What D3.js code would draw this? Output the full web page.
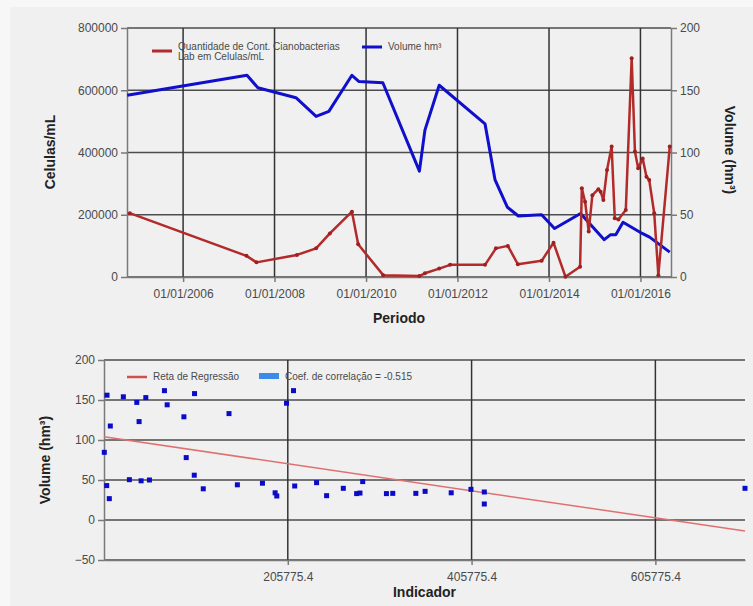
<!DOCTYPE html>
<html>
<head>
<meta charset="utf-8">
<script src="https://cdn.jsdelivr.net/npm/d3@7"></script>
<style>
  body { margin: 0; background: #f7f7f7; }
  text { font-family: "Liberation Sans", Arial, sans-serif; }
</style>
</head>
<body>
<div id="chart"></div>
<script>
// --- top chart data: cianobacterias (cells/mL) ---
var cianoDatas = ["2004-11-01", "2007-05-22", "2007-08-10", "2008-06-28", "2008-11-28", "2009-03-18",
  "2009-09-10", "2009-10-30", "2010-05-18", "2011-03-03", "2011-04-16", "2011-08-08", "2011-11-03",
  "2012-08-08", "2012-11-03", "2013-02-06", "2013-04-27", "2013-11-03", "2014-02-06", "2014-05-12",
  "2014-09-06", "2014-09-20", "2014-10-16", "2014-11-14", "2014-12-13", "2015-01-30", "2015-02-17",
  "2015-03-11", "2015-04-09", "2015-05-16", "2015-06-10", "2015-07-09", "2015-09-06", "2015-10-23",
  "2015-11-18", "2015-12-14", "2016-01-19", "2016-02-18", "2016-03-11", "2016-04-20", "2016-05-23",
  "2016-08-22"];
var cianoValores = [205000, 68000, 47000, 71000, 92000, 140000, 210000, 105000, 6000, 3000, 12000,
  27000, 39000, 39000, 92000, 100000, 41000, 52000, 110000, 1000, 33000, 285000, 242000, 146000,
  263000, 282000, 274000, 247000, 344000, 419000, 189000, 185000, 215000, 703000, 403000, 349000,
  381000, 322000, 312000, 205000, 6000, 419000];

// --- top chart data: volume (hm3) ---
var volumeDatas = ["2004-10-12", "2007-05-26", "2007-08-21", "2008-06-20", "2008-11-28", "2009-03-10",
  "2009-09-10", "2009-11-06", "2010-05-15", "2011-03-03", "2011-04-16", "2011-08-08", "2012-08-08",
  "2012-10-27", "2013-02-03", "2013-05-01", "2013-11-03", "2014-02-14", "2014-09-10", "2015-03-18",
  "2015-05-08", "2015-06-18", "2015-08-15", "2016-01-15", "2016-03-14", "2016-08-22"];
var volumeValores = [146, 162, 152, 144, 129, 133, 162, 157, 156, 85, 118, 154, 123, 78, 56, 49, 50,
  39, 51, 30, 34, 34, 44, 35, 32, 20];

var anosTicks = ["2006-01-01", "2008-01-01", "2010-01-01", "2012-01-01", "2014-01-01", "2016-01-01"];

// --- bottom chart data: scatter indicador x volume ---
var indicador = [6100, 9050, 8720, 11560, 12650, 26830, 33380, 41450, 43960, 46150, 51270, 55200,
  71570, 74520, 92740, 95250, 104000, 104300, 113800, 141800, 150900, 178200, 192000, 193800,
  204400, 212000, 213300, 237100, 248000, 266200, 280700, 284300, 287300, 313100, 320000, 345100,
  355200, 383600, 405100, 419600, 419600, 703300];
var volumeDisp = [84.6, 156, 43, 26.7, 117.5, 154, 50.4, 147, 123, 49, 153, 50, 161.7, 144, 129, 78,
  56, 158, 39, 133, 44, 46, 34, 30, 146, 161.7, 42.5, 46.7, 30.4, 39.6, 33, 33.7, 48, 33, 33.3, 33.3,
  35.8, 34, 38.3, 35, 20, 39.6];
var indicadorTicks = [205775.4, 405775.4, 605775.4];
var retaX = [5775.4, 703300];
var retaY = [104, -13.7];

var width = 753, height = 606;
var gridColor = "#4d4d4d", axisColor = "#7a7a7a", textColor = "#4a4a4a";

var svg = d3.select("#chart").append("svg")
  .attr("width", width).attr("height", height);

svg.append("rect").attr("x", 10).attr("y", 7).attr("width", width - 10).attr("height", height - 7)
  .attr("fill", "#f0f0f0");

var parse = d3.timeParse("%Y-%m-%d");

// ================= top chart =================
var box1 = { left: 127, right: 671, top: 28, bottom: 277 };

var x1 = d3.scaleTime()
  .domain([parse("2004-10-10"), parse("2016-09-01")])
  .range([box1.left, box1.right]);
var yL = d3.scaleLinear().domain([0, 800000]).range([box1.bottom, box1.top]);
var yR = d3.scaleLinear().domain([0, 200]).range([box1.bottom, box1.top]);

var g1 = svg.append("g");

// horizontal grid
g1.selectAll(".hgrid").data(yL.ticks(4)).enter().append("line")
  .attr("x1", box1.left).attr("x2", box1.right)
  .attr("y1", function (d) { return yL(d); }).attr("y2", function (d) { return yL(d); })
  .attr("stroke", gridColor).attr("stroke-width", 1.5);

// vertical grid
g1.selectAll(".vgrid").data(anosTicks.map(parse)).enter().append("line")
  .attr("x1", function (d) { return x1(d); }).attr("x2", function (d) { return x1(d); })
  .attr("y1", box1.top).attr("y2", box1.bottom)
  .attr("stroke", "#333").attr("stroke-width", 1.5);

// left axis
var axL = g1.append("g").attr("transform", "translate(" + box1.left + ",0)")
  .call(d3.axisLeft(yL).ticks(4).tickSize(6).tickSizeOuter(0).tickFormat(d3.format("d")));
// right axis
var axR = g1.append("g").attr("transform", "translate(" + box1.right + ",0)")
  .call(d3.axisRight(yR).ticks(4).tickSize(6).tickSizeOuter(0));
// bottom axis
var axB = g1.append("g").attr("transform", "translate(0," + box1.bottom + ")")
  .call(d3.axisBottom(x1).tickValues(anosTicks.map(parse)).tickSize(5).tickSizeOuter(0)
    .tickFormat(d3.timeFormat("%d/%m/%Y")));

[axL, axR, axB].forEach(function (ax) {
  ax.selectAll("path").attr("stroke", axisColor).attr("stroke-width", 1.5);
  ax.selectAll("line").attr("stroke", axisColor).attr("stroke-width", 1.5);
  ax.selectAll("text").attr("fill", textColor).style("font-size", "12px");
});
axB.selectAll("text").attr("dy", "1.05em");

// series
var ciano = cianoDatas.map(function (d, i) { return { date: parse(d), v: cianoValores[i] }; });
var volume = volumeDatas.map(function (d, i) { return { date: parse(d), v: volumeValores[i] }; });

g1.append("path").datum(volume)
  .attr("fill", "none").attr("stroke", "#1010cc").attr("stroke-width", 3)
  .attr("stroke-linejoin", "round")
  .attr("d", d3.line().x(function (d) { return x1(d.date); }).y(function (d) { return yR(d.v); }));

g1.append("path").datum(ciano)
  .attr("fill", "none").attr("stroke", "#b22a2a").attr("stroke-width", 2.5)
  .attr("stroke-linejoin", "round")
  .attr("d", d3.line().x(function (d) { return x1(d.date); }).y(function (d) { return yL(d.v); }));

g1.selectAll(".cpt").data(ciano).enter().append("circle")
  .attr("cx", function (d) { return x1(d.date); }).attr("cy", function (d) { return yL(d.v); })
  .attr("r", 2).attr("fill", "#a02020");

// legend
g1.append("line").attr("x1", 152).attr("x2", 172).attr("y1", 51).attr("y2", 51)
  .attr("stroke", "#b22a2a").attr("stroke-width", 3);
g1.append("text").attr("x", 178).attr("y", 50).attr("fill", textColor).style("font-size", "10px")
  .text("Quantidade de Cont. Cianobacterias");
g1.append("text").attr("x", 178).attr("y", 60).attr("fill", textColor).style("font-size", "10px")
  .text("Lab em Celulas/mL");
g1.append("line").attr("x1", 362).attr("x2", 382).attr("y1", 47).attr("y2", 47)
  .attr("stroke", "#1010cc").attr("stroke-width", 3);
g1.append("text").attr("x", 388).attr("y", 50).attr("fill", textColor).style("font-size", "10px")
  .text("Volume hm³");

// axis titles
g1.append("text").attr("transform", "translate(55,152) rotate(-90)")
  .attr("text-anchor", "middle").attr("fill", "#222").style("font-size", "14px")
  .style("font-weight", "bold").text("Celulas/mL");
g1.append("text").attr("transform", "translate(725,150) rotate(90)")
  .attr("text-anchor", "middle").attr("fill", "#222").style("font-size", "14px")
  .style("font-weight", "bold").text("Volume (hm³)");
g1.append("text").attr("x", (box1.left + box1.right) / 2).attr("y", 323)
  .attr("text-anchor", "middle").attr("fill", "#222").style("font-size", "14px")
  .style("font-weight", "bold").text("Periodo");

// ================= bottom chart =================
var box2 = { left: 104, right: 745, top: 360, bottom: 560 };

var x2 = d3.scaleLinear().domain([5775.4, 703300]).range([box2.left, box2.right]);
var y2 = d3.scaleLinear().domain([-50, 200]).range([box2.bottom, box2.top]);

var g2 = svg.append("g");

g2.selectAll(".hgrid").data(y2.ticks(5)).enter().append("line")
  .attr("x1", box2.left).attr("x2", box2.right)
  .attr("y1", function (d) { return y2(d); }).attr("y2", function (d) { return y2(d); })
  .attr("stroke", gridColor).attr("stroke-width", 1.5);

g2.selectAll(".vgrid").data(indicadorTicks).enter().append("line")
  .attr("x1", function (d) { return x2(d); }).attr("x2", function (d) { return x2(d); })
  .attr("y1", box2.top).attr("y2", box2.bottom)
  .attr("stroke", "#333").attr("stroke-width", 1.5);

var ax2L = g2.append("g").attr("transform", "translate(" + box2.left + ",0)")
  .call(d3.axisLeft(y2).ticks(5).tickSize(6).tickSizeOuter(0));
var ax2B = g2.append("g").attr("transform", "translate(0," + box2.bottom + ")")
  .call(d3.axisBottom(x2).tickValues(indicadorTicks).tickSize(5).tickSizeOuter(0)
    .tickFormat(function (d) { return d3.format(".1f")(d); }));

[ax2L, ax2B].forEach(function (ax) {
  ax.selectAll("path").attr("stroke", axisColor).attr("stroke-width", 1.5);
  ax.selectAll("line").attr("stroke", axisColor).attr("stroke-width", 1.5);
  ax.selectAll("text").attr("fill", textColor).style("font-size", "12px");
});
ax2B.selectAll("text").attr("dy", "1.05em");

// regression line
g2.append("line")
  .attr("x1", x2(retaX[0])).attr("y1", y2(retaY[0]))
  .attr("x2", x2(retaX[1])).attr("y2", y2(retaY[1]))
  .attr("stroke", "#e07070").attr("stroke-width", 1.5);

// scatter points
g2.selectAll(".pt").data(indicador).enter().append("rect")
  .attr("x", function (d) { return x2(d) - 2.5; })
  .attr("y", function (d, i) { return y2(volumeDisp[i]) - 2.5; })
  .attr("width", 5).attr("height", 5).attr("fill", "#0a0ac8");

// legend
g2.append("line").attr("x1", 127).attr("x2", 147).attr("y1", 377).attr("y2", 377)
  .attr("stroke", "#d05050").attr("stroke-width", 2.5);
g2.append("text").attr("x", 153).attr("y", 380).attr("fill", textColor).style("font-size", "10px")
  .text("Reta de Regressão");
g2.append("rect").attr("x", 259).attr("y", 373).attr("width", 20).attr("height", 6)
  .attr("fill", "#3d8be8");
g2.append("text").attr("x", 285).attr("y", 380).attr("fill", textColor).style("font-size", "10px")
  .text("Coef. de correlação = -0.515");

// axis titles
g2.append("text").attr("transform", "translate(50,460) rotate(-90)")
  .attr("text-anchor", "middle").attr("fill", "#222").style("font-size", "14px")
  .style("font-weight", "bold").text("Volume (hm³)");
g2.append("text").attr("x", (box2.left + box2.right) / 2).attr("y", 597)
  .attr("text-anchor", "middle").attr("fill", "#222").style("font-size", "14px")
  .style("font-weight", "bold").text("Indicador");
</script>
</body>
</html>
